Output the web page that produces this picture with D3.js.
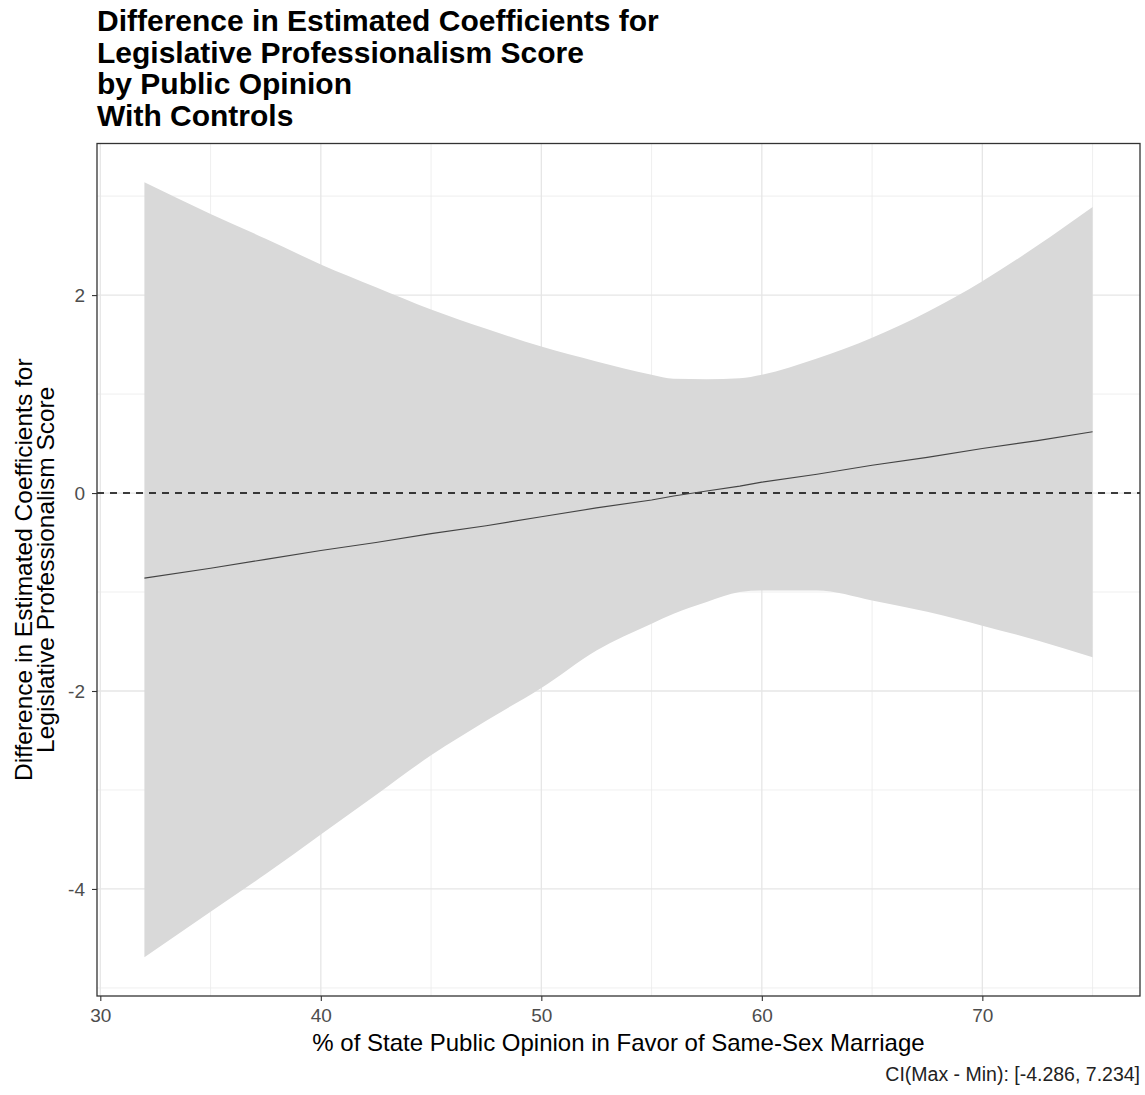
<!DOCTYPE html>
<html>
<head>
<meta charset="utf-8">
<script src="https://cdn.jsdelivr.net/npm/d3@7"></script>
<style>
  body { margin: 0; background: #fff; }
  svg { font-family: "Liberation Sans", Arial, sans-serif; display: block; }
</style>
</head>
<body>
<div class="chart"></div>
<script>
// opinion values (x) the ribbon and fit are read at
const opinion = [32, 35, 37.5, 40, 42.5, 45, 47.5, 50, 52.5, 55, 56, 57.5, 59, 60, 62.5, 65, 67.5, 70, 72.5, 75];
const ciUpper = [3.14, 2.82, 2.57, 2.31, 2.08, 1.855, 1.66, 1.48, 1.33, 1.196, 1.155, 1.15, 1.16, 1.196, 1.36, 1.57, 1.83, 2.14, 2.50, 2.89];
const ciLower = [-4.69, -4.23, -3.85, -3.45, -3.05, -2.65, -2.30, -1.97, -1.59, -1.32, -1.22, -1.10, -1.0, -0.985, -0.985, -1.085, -1.20, -1.34, -1.49, -1.66];
const estimate = [-0.86, -0.76, -0.67, -0.58, -0.50, -0.41, -0.33, -0.24, -0.15, -0.07, -0.03, 0.02, 0.07, 0.11, 0.19, 0.28, 0.36, 0.45, 0.53, 0.62];

const xTicks = [30, 40, 50, 60, 70];
const xMinor = [35, 45, 55, 65, 75];
const yTicks = [-4, -2, 0, 2];
const yMinor = [-5, -3, -1, 1, 3];

const titleLines = ["Difference in Estimated Coefficients for", "Legislative Professionalism Score", "by Public Opinion", "With Controls"];
const yTitleLines = ["Difference in Estimated Coefficients for", "Legislative Professionalism Score"];
const xTitle = "% of State Public Opinion in Favor of Same-Sex Marriage";
const caption = "CI(Max - Min): [-4.286, 7.234]";

const data = opinion.map((x, i) => ({x: x, lo: ciLower[i], hi: ciUpper[i], fit: estimate[i]}));

const W = 1145, H = 1095;
const margin = {top: 143.5, right: 5, bottom: 99, left: 97};
const width = W - margin.left - margin.right;
const height = H - margin.top - margin.bottom;

const svg = d3.select('.chart').append('svg')
    .attr("width", W)
    .attr("height", H);

const g = svg.append("g")
    .attr("transform", `translate(${margin.left},${margin.top})`);

// ggplot-style 5% expansion of data range
const xExt = d3.extent(opinion);
const yExt = [d3.min(ciLower), d3.max(ciUpper)];
const xPad = (xExt[1] - xExt[0]) * 0.05;
const yPad = (yExt[1] - yExt[0]) * 0.05;

const xScale = d3.scaleLinear()
    .domain([xExt[0] - xPad, xExt[1] + xPad])
    .range([0, width]);
const yScale = d3.scaleLinear()
    .domain([yExt[0] - yPad, yExt[1] + yPad])
    .range([height, 0]);

// grid
g.selectAll(".xminor").data(xMinor).enter().append("line")
    .attr("x1", d => xScale(d)).attr("x2", d => xScale(d))
    .attr("y1", 0).attr("y2", height)
    .attr("stroke", "#ebebeb").attr("stroke-width", 0.8);
g.selectAll(".yminor").data(yMinor).enter().append("line")
    .attr("y1", d => yScale(d)).attr("y2", d => yScale(d))
    .attr("x1", 0).attr("x2", width)
    .attr("stroke", "#ebebeb").attr("stroke-width", 0.8);
g.selectAll(".xmajor").data(xTicks).enter().append("line")
    .attr("x1", d => xScale(d)).attr("x2", d => xScale(d))
    .attr("y1", 0).attr("y2", height)
    .attr("stroke", "#e6e6e6").attr("stroke-width", 1.3);
g.selectAll(".ymajor").data(yTicks).enter().append("line")
    .attr("y1", d => yScale(d)).attr("y2", d => yScale(d))
    .attr("x1", 0).attr("x2", width)
    .attr("stroke", "#e6e6e6").attr("stroke-width", 1.3);

// confidence ribbon
const area = d3.area()
    .x(d => xScale(d.x))
    .y0(d => yScale(d.lo))
    .y1(d => yScale(d.hi))
    .curve(d3.curveMonotoneX);

g.append("path")
    .datum(data)
    .attr("d", area)
    .attr("fill", "#d9d9d9");

// zero reference
g.append("line")
    .attr("x1", 0).attr("x2", width)
    .attr("y1", yScale(0)).attr("y2", yScale(0))
    .attr("stroke", "#000")
    .attr("stroke-width", 1.5)
    .attr("stroke-dasharray", "7,6");

// estimate
const line = d3.line()
    .x(d => xScale(d.x))
    .y(d => yScale(d.fit));

g.append("path")
    .datum(data)
    .attr("d", line)
    .attr("fill", "none")
    .attr("stroke", "#444")
    .attr("stroke-width", 1.1);

// panel border
g.append("rect")
    .attr("width", width).attr("height", height)
    .attr("fill", "none")
    .attr("stroke", "#333")
    .attr("stroke-width", 1.3);

// axes
const xAxis = d3.axisBottom(xScale).tickValues(xTicks).tickSize(5).tickPadding(8).tickFormat(d => String(d));
const yAxis = d3.axisLeft(yScale).tickValues(yTicks).tickSize(5).tickPadding(7).tickFormat(d => String(d));

const gx = g.append("g")
    .attr("class", "axis x-axis")
    .attr("transform", `translate(0, ${height})`)
    .call(xAxis);
const gy = g.append("g")
    .attr("class", "axis y-axis")
    .call(yAxis);

[gx, gy].forEach(a => {
    a.select(".domain").remove();
    a.selectAll(".tick line").attr("stroke", "#333").attr("stroke-width", 1.1);
    a.selectAll(".tick text")
        .attr("fill", "#4d4d4d")
        .attr("font-size", "19px")
        .attr("font-family", "Liberation Sans, Arial, sans-serif");
});

// axis titles
svg.append("text")
    .attr("x", margin.left + width / 2)
    .attr("y", 1051)
    .attr("text-anchor", "middle")
    .attr("font-size", "24px")
    .text(xTitle);

const yt = svg.append("text")
    .attr("transform", `translate(0, ${margin.top + height / 2}) rotate(-90)`)
    .attr("text-anchor", "middle")
    .attr("font-size", "24.5px");
yt.selectAll("tspan").data(yTitleLines).enter().append("tspan")
    .attr("x", 0)
    .attr("y", (d, i) => 32 + i * 21.5)
    .text(d => d);

// title
svg.selectAll(".title").data(titleLines).enter().append("text")
    .attr("x", 97)
    .attr("y", (d, i) => 31 + i * 31.7)
    .attr("font-size", "30px")
    .attr("font-weight", "bold")
    .attr("fill", "#000")
    .text(d => d);

// caption
svg.append("text")
    .attr("x", 1140)
    .attr("y", 1081)
    .attr("text-anchor", "end")
    .attr("font-size", "19.5px")
    .attr("fill", "#222")
    .text(caption);
</script>
</body>
</html>
